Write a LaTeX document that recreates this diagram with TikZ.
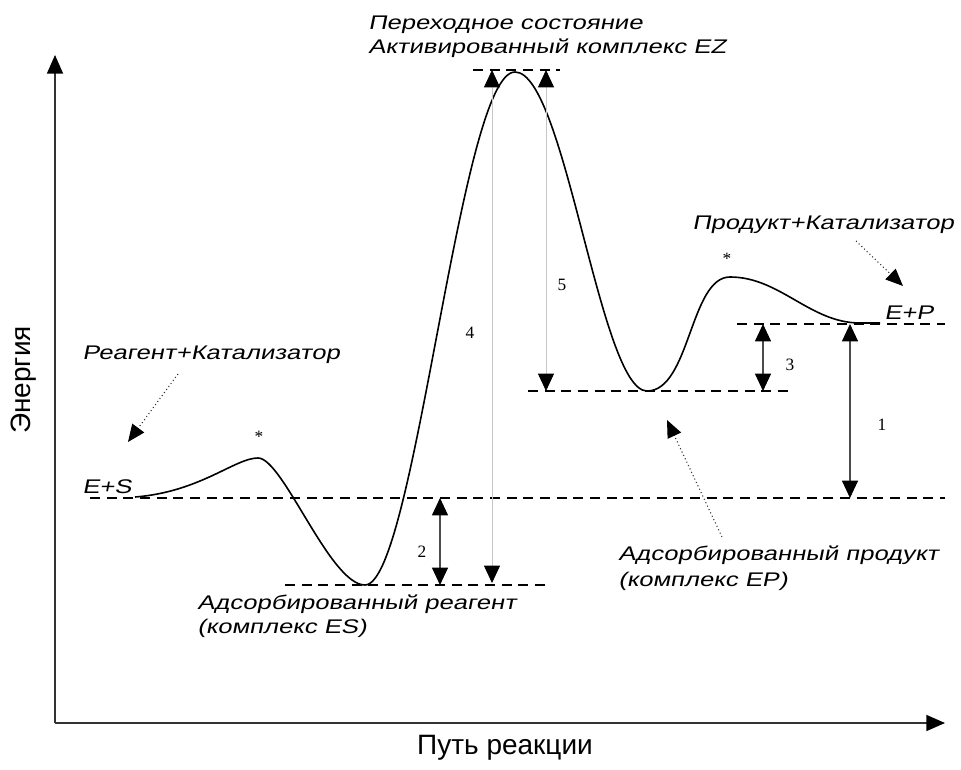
\documentclass[tikz,border=0pt]{standalone}
\usepackage{fontspec}
\usetikzlibrary{arrows.meta}
\newfontfamily\labf[FakeSlant=0.2,FakeStretch=1.3]{Liberation Sans}
\newfontfamily\axf{Liberation Sans}
\newfontfamily\numf{Liberation Serif}
\begin{document}
\begin{tikzpicture}[x=0.75pt,y=-0.75pt,
  lab/.style={inner sep=0pt,anchor=west,font=\labf\fontsize{14.8}{17}\selectfont},
  num/.style={inner sep=0pt,font=\numf\fontsize{13}{15}\selectfont},
  axlab/.style={inner sep=0pt,font=\axf\fontsize{21}{24}\selectfont},
  lvl/.style={line width=1pt,dash pattern=on 7.5pt off 5pt},
  axis/.style={line width=1.2pt,draw=black!80,-{Triangle[length=14pt,width=12pt,color=black]}},
  dbl/.style={line width=0.8pt,draw=black!70,{Triangle[length=13pt,width=12pt,color=black]}-{Triangle[length=13pt,width=12pt,color=black]}},
  gline/.style={line width=0.6pt,draw=black!22,{Triangle[length=13pt,width=12pt,color=black]}-{Triangle[length=13pt,width=12pt,color=black]}},
  dotarr/.style={line width=0.8pt,draw=black!80,dotted,-{Triangle[length=13pt,width=11pt,color=black]}},
  curve/.style={line width=1.2pt}]
\useasboundingbox[fill=white] (0,0) rectangle (961,770);

% axes
\coordinate (O) at (55,723);
\coordinate (Ytop) at (55,55);
\coordinate (Xend) at (945,723);
\draw[axis] (O) -- (Ytop);
\draw[axis] (O) -- (Xend);
\node[axlab,rotate=90] (yl) at (24,380) {Энергия};
\node[axlab] (xl) at (505,748) {Путь реакции};

% levels
\coordinate (esL) at (90,498);  \coordinate (esR) at (945,498);
\coordinate (cL) at (285,585);  \coordinate (cR) at (550,585);
\coordinate (zL) at (473,70);   \coordinate (zR) at (560,70);
\coordinate (pL) at (528,391);  \coordinate (pR) at (792,391);
\coordinate (epL) at (737,324); \coordinate (epR) at (945,324);
\draw[lvl] (esL) -- (esR);
\draw[lvl] (cL) -- (cR);
\draw[lvl] (zL) -- (zR);
\draw[lvl] (pL) -- (pR);
\draw[lvl] (epL) -- (epR);

% energy profile
\draw[curve] (135,497) .. controls (200,492) and (235,458) .. (258,458)
  .. controls (283,458) and (330,585) .. (365,585)
  .. controls (415,585) and (460,72) .. (515,72)
  .. controls (565,72) and (600,391) .. (647,391)
  .. controls (690,391) and (690,277) .. (730,277)
  .. controls (780,277) and (810,323) .. (860,323) -- (880,323);

% differences
\coordinate (a2t) at (440,498); \coordinate (a2b) at (440,585);
\coordinate (a4t) at (492,70);  \coordinate (a4b) at (492,583);
\coordinate (a5t) at (546,70);  \coordinate (a5b) at (546,391);
\coordinate (a3t) at (763,324); \coordinate (a3b) at (763,391);
\coordinate (a1t) at (850,324); \coordinate (a1b) at (850,498);
\draw[dbl] (a2t) -- (a2b);
\draw[gline] (a4t) -- (a4b);
\draw[gline] (a5t) -- (a5b);
\draw[dbl] (a3t) -- (a3b);
\draw[dbl] (a1t) -- (a1b);
\node[num] (n2) at (422,552) {2};
\node[num] (n4) at (470,333) {4};
\node[num] (n5) at (562,285) {5};
\node[num] (n3) at (790,365) {3};
\node[num] (n1) at (882,425) {1};

% stars
\node[num] (s1) at (259,437) {*};
\node[num] (s2) at (727,259) {*};

% labels
\node[lab] (ts1) at (368,25) {Переходное состояние};
\node[lab] (ts2) at (368,48) {Активированный комплекс EZ};
\node[lab] (rk) at (82,355) {Реагент+Катализатор};
\node[lab] (es) at (82,487) {E+S};
\node[lab] (ar1) at (197,604) {Адсорбированный реагент};
\node[lab] (ar2) at (197,628) {(комплекс ES)};
\node[lab] (ap1) at (618,555) {Адсорбированный продукт};
\node[lab] (ap2) at (618,581) {(комплекс EP)};
\node[lab] (pk) at (692,225) {Продукт+Катализатор};
\node[lab] (ep) at (884,313) {E+P};

% dotted pointers
\coordinate (d1s) at (178,374); \coordinate (d1e) at (128,442);
\coordinate (d2s) at (722,537); \coordinate (d2e) at (667,420);
\coordinate (d3s) at (856,241); \coordinate (d3e) at (903,286);
\draw[dotarr] (d1s) -- (d1e);
\draw[dotarr] (d2s) -- (d2e);
\draw[dotarr] (d3s) -- (d3e);
\end{tikzpicture}
\end{document}
